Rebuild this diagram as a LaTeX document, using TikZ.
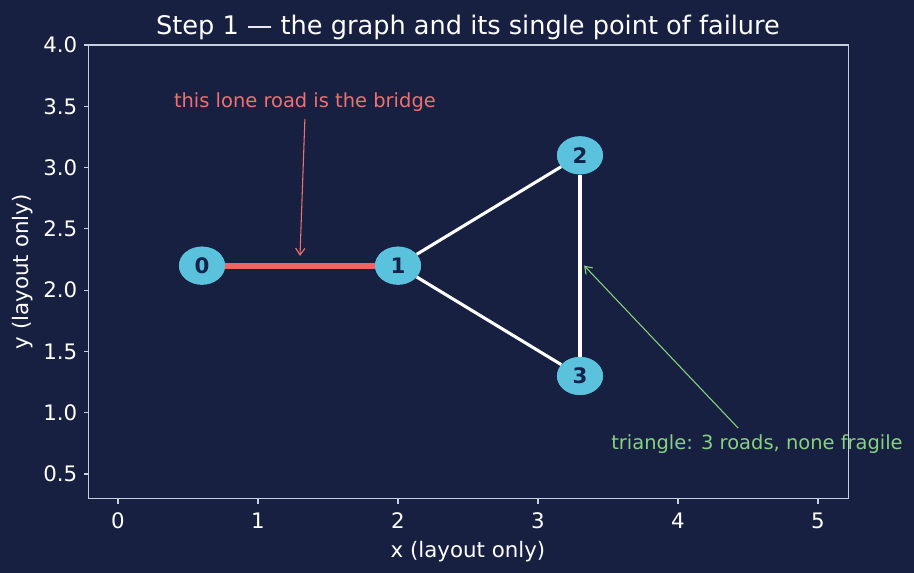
\documentclass[tikz,border=0pt]{standalone}
\usepackage{fontspec}
\setmainfont{DejaVu Sans}
\usetikzlibrary{shapes.geometric,arrows.meta}
\definecolor{bg}{HTML}{172041}
\definecolor{axc}{HTML}{C8D0E0}
\definecolor{nodec}{HTML}{5BC2DE}
\definecolor{navy}{HTML}{17224A}
\definecolor{bridgec}{HTML}{F06464}
\definecolor{redtxt}{HTML}{F07070}
\definecolor{greentxt}{HTML}{86D27E}
\tikzset{
  vert/.style={ellipse, fill=nodec, minimum width=34.5pt, minimum height=28.5pt, inner sep=0pt, text=navy, font=\fontsize{16}{18}\selectfont\bfseries},
  road/.style={white, line width=2.3pt},
  bridge/.style={bridgec, line width=4.5pt},
  ticklab/.style={text=white, font=\fontsize{16}{18}\selectfont},
  annot/.style={font=\fontsize{14.6}{17}\selectfont},
}
\begin{document}
\begin{tikzpicture}[x=105pt,y=91.95pt]
\fill[bg] (-0.843,-0.307) rectangle (5.686,4.367);
\useasboundingbox (-0.843,-0.307) rectangle (5.686,4.367);
% frame
\draw[axc, line width=0.9pt] (-0.21,0.3) rectangle (5.22,4.0);
% x ticks
\foreach \v in {0,1,2,3,4,5} {
  \draw[axc, line width=0.9pt] (\v,0.3) -- ++(0,-3.75pt);
  \node[ticklab, anchor=north] at (\v,0.3) [yshift=-7pt] {\v};
}
\foreach \v/\l in {0.5/0.5,1.0/1.0,1.5/1.5,2.0/2.0,2.5/2.5,3.0/3.0,3.5/3.5,4.0/4.0} {
  \draw[axc, line width=0.9pt] (-0.21,\v) -- ++(-3.75pt,0);
  \node[ticklab, anchor=east] at (-0.21,\v) [xshift=-5pt] {\l};
}
\node[ticklab] (xl) at (2.5,-0.13) {x (layout only)};
\node[ticklab, rotate=90] (yl) at (-0.685,2.15) {y (layout only)};
\node[text=white, font=\fontsize{19.2}{22}\selectfont] (title) at (2.5,4.145) {Step 1 — the graph and its single point of failure};
% nodes
\node[vert] (n0) at (0.6,2.2) {0};
\node[vert] (n1) at (2.0,2.2) {1};
\node[vert] (n2) at (3.3,3.1) {2};
\node[vert] (n3) at (3.3,1.3) {3};
\draw[bridge] (n0) -- (n1);
\draw[road] (n1) -- (n2);
\draw[road] (n1) -- (n3);
\draw[road] (n2) -- (n3);
% redraw nodes on top
\node[vert] at (0.6,2.2) {0};
\node[vert] at (2.0,2.2) {1};
\node[vert] at (3.3,3.1) {2};
\node[vert] at (3.3,1.3) {3};
% annotations
\node[annot, text=redtxt] (t1) at (1.335,3.535) {this lone road is the bridge};
\coordinate (p1) at (1.3,2.28);
\draw[redtxt, line width=0.8pt, -{Straight Barb[length=5pt,width=7pt]}] (t1.south) ++(0,-2pt) -- (p1);
\node[annot, text=greentxt, anchor=base west] (t2) at (3.49,0.7) {triangle: 3 roads, none fragile};
\coordinate (p2) at (3.33,2.2);
\coordinate (s2) at (4.43,0.875);
\draw[greentxt, line width=0.8pt, -{Straight Barb[length=5pt,width=7pt]}] (s2) -- (p2);
\end{tikzpicture}
\end{document}
